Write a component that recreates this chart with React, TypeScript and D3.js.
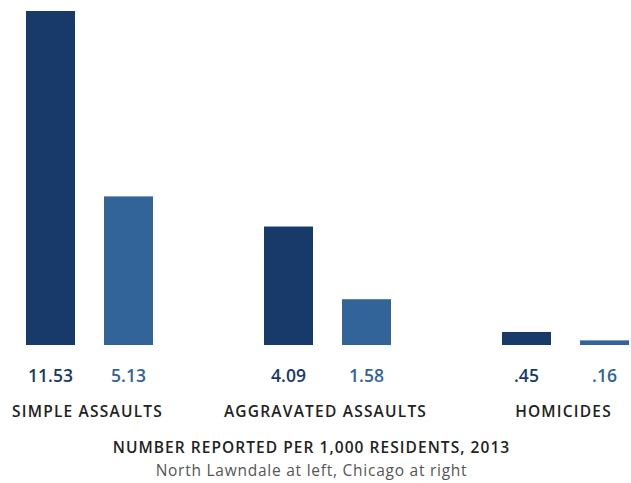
import { useRef, useEffect } from "react";
import * as d3 from "d3";

// crime rates per 1,000 residents, 2013
const categories = ["SIMPLE ASSAULTS", "AGGRAVATED ASSAULTS", "HOMICIDES"];
const series = ["North Lawndale", "Chicago"];
const northLawndale = [11.53, 4.09, 0.45];
const chicago = [5.13, 1.58, 0.16];
const valueLabels = [
  ["11.53", "5.13"],
  ["4.09", "1.58"],
  [".45", ".16"],
];
const title = "NUMBER REPORTED PER 1,000 RESIDENTS, 2013";
const subtitle = "North Lawndale at left, Chicago at right";

const colors = ["#173a6b", "#32649a"];

const App: React.FC = () => {
  const svgRef = useRef<SVGSVGElement | null>(null);

  useEffect(() => {
    if (!svgRef.current) return;
    document.body.style.margin = "0";

    const width = 631;
    const height = 483;
    const svg = d3.select(svgRef.current);
    svg.selectAll("*").remove();
    svg.attr("width", width).attr("height", height);

    const font = "'Open Sans', Lato, sans-serif";

    const x0 = d3.scaleBand<string>().domain(categories).range([-29.5, 684.5]);
    const x1 = d3
      .scaleBand<string>()
      .domain(series)
      .range([55.5, 182.5])
      .paddingInner(0.372);
    const y = d3.scaleLinear().domain([0, 11.53]).range([345, 11]);

    const values = [northLawndale, chicago];

    const groups = svg
      .selectAll("g.group")
      .data(categories)
      .join("g")
      .attr("class", "group")
      .attr("transform", (d) => `translate(${x0(d)},0)`);

    groups.each(function (cat, i) {
      const g = d3.select(this);
      series.forEach((s, j) => {
        const v = values[j][i];
        g.append("rect")
          .attr("x", x1(s)!)
          .attr("y", y(v))
          .attr("width", x1.bandwidth())
          .attr("height", y(0) - y(v))
          .attr("fill", colors[j]);
        g.append("text")
          .attr("x", x1(s)! + x1.bandwidth() / 2)
          .attr("y", 382)
          .attr("text-anchor", "middle")
          .attr("font-family", font)
          .attr("font-weight", 600)
          .attr("font-size", 17.5)
          .attr("fill", colors[j])
          .text(valueLabels[i][j]);
      });
      g.append("text")
        .attr("x", x0.bandwidth() / 2 - 2)
        .attr("y", 417)
        .attr("text-anchor", "middle")
        .attr("font-family", font)
        .attr("font-weight", 600)
        .attr("font-size", 15.5)
        .attr("letter-spacing", 1.2)
        .attr("fill", "#222")
        .text(cat);
    });

    svg
      .append("text")
      .attr("x", 311.5)
      .attr("y", 453)
      .attr("text-anchor", "middle")
      .attr("font-family", font)
      .attr("font-weight", 600)
      .attr("font-size", 15.5)
      .attr("letter-spacing", 1.05)
      .attr("fill", "#222")
      .text(title);

    svg
      .append("text")
      .attr("x", 311.5)
      .attr("y", 476)
      .attr("text-anchor", "middle")
      .attr("font-family", font)
      .attr("font-size", 15.5)
      .attr("letter-spacing", 0.75)
      .attr("fill", "#555")
      .text(subtitle);
  }, []);

  return <svg ref={svgRef} style={{ display: "block" }}></svg>;
};

export default App;
